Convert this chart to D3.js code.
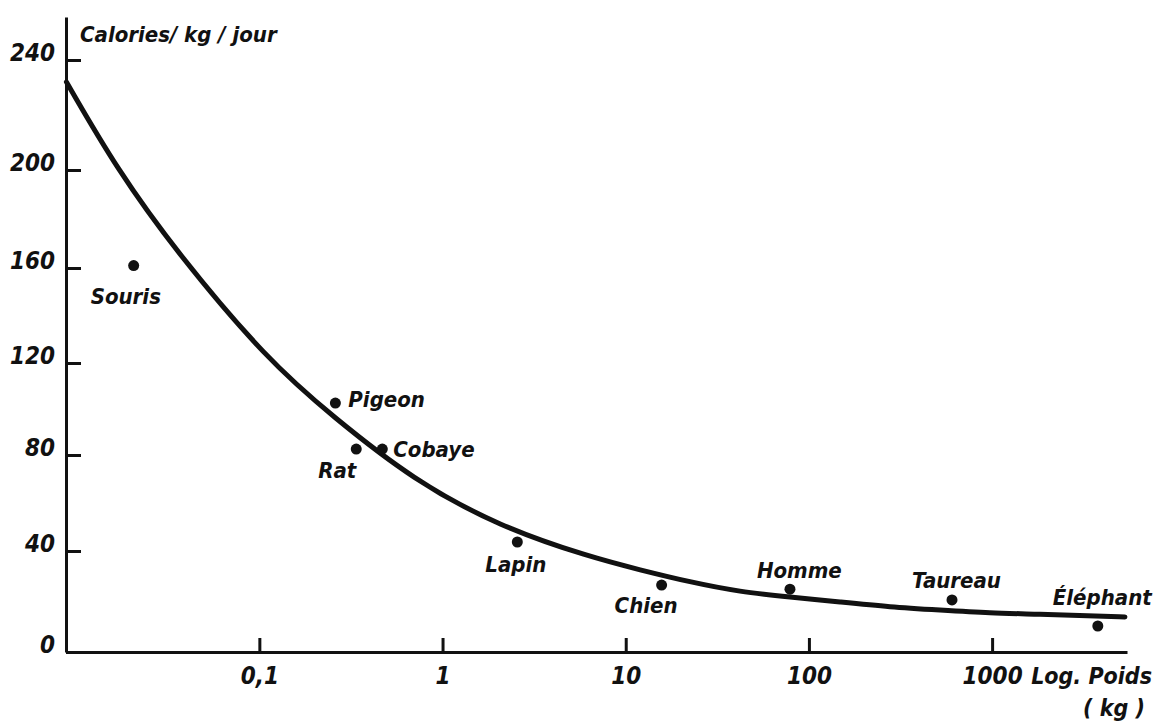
<!DOCTYPE html>
<html>
<head>
<meta charset="utf-8">
<script src="https://cdn.jsdelivr.net/npm/d3@7"></script>
<style>
  body { margin: 0; background: #fff; }
  text { font-family: "DejaVu Sans Condensed", "DejaVu Sans", sans-serif; font-weight: bold; font-style: italic; fill: #111; }
</style>
</head>
<body>
<div id="chart"></div>
<script>
// animals: body weight (kg) and calories / kg / day
const animals = ["Souris", "Pigeon", "Rat", "Cobaye", "Lapin", "Chien", "Homme", "Taureau", "Éléphant"]
const weights = [0.0206, 0.26, 0.338, 0.469, 2.56, 15.7, 78.8, 604, 3776]
const calories = [161, 102.6, 82.6, 82.6, 43.75, 26.5, 24.9, 20.6, 10.3]

// hand drawn fitted curve
const curveWeights = [0.00885, 0.0168, 0.0357, 0.1106, 0.2535, 0.692, 2.07, 6.40, 12.0, 22.4, 42.1, 78.8, 148, 277, 519, 972, 1824, 3415, 5310]
const curveCalories = [232, 200, 166.1, 121.3, 96.5, 69.6, 50, 37.6, 32.5, 27.7, 23.8, 21.8, 19.8, 17.8, 16.6, 15.4, 15.0, 14.3, 13.9]

const yTicks = [0, 40, 80, 120, 160, 200, 240]
const xTicks = [0.1, 1, 10, 100, 1000]
const xTickLabels = ["0,1", "1", "10", "100", "1000"]

const width = 1157
const height = 727

const svg = d3.select("#chart").append("svg")
    .attr("width", width)
    .attr("height", height)

// Scales (the drawn scale is a bit uneven, so y is piecewise)
const xScale = d3.scaleLog()
    .domain([0.0088, 5450])
    .range([66, 1127])

const yScale = d3.scaleLinear()
    .domain([0, 40, 80, 120, 160, 200, 240, 258])
    .range([652, 551, 455, 363, 268, 170, 60, 17])

// Axes
const xAxis = svg.append("g")
    .attr("transform", `translate(0, ${yScale(0)})`)
    .call(d3.axisBottom(xScale)
        .tickValues(xTicks)
        .tickFormat((d, i) => xTickLabels[i])
        .tickSize(-14)
        .tickSizeOuter(0))
xAxis.select(".domain").attr("stroke", "#111").attr("stroke-width", 3)
xAxis.selectAll(".tick line").attr("stroke", "#111").attr("stroke-width", 3)
xAxis.selectAll(".tick text")
    .attr("y", 32)
    .attr("dy", 0)
    .attr("font-size", 24)
    .attr("font-family", null)

const yAxis = svg.append("g")
    .attr("transform", `translate(${xScale.range()[0]}, 0)`)
    .call(d3.axisLeft(yScale)
        .tickValues(yTicks)
        .tickSize(-15)
        .tickSizeOuter(0)
        .tickPadding(10))
yAxis.select(".domain").attr("stroke", "#111").attr("stroke-width", 3)
yAxis.selectAll(".tick line").attr("stroke", "#111").attr("stroke-width", 3)
yAxis.selectAll(".tick text")
    .attr("x", -11)
    .attr("dy", 0)
    .attr("font-size", 24)
    .attr("font-family", null)

// Axis titles
svg.append("text")
    .attr("x", 80)
    .attr("y", 42)
    .attr("font-size", 22)
    .text("Calories/ kg / jour")

svg.append("text")
    .attr("x", 1152)
    .attr("y", 684)
    .attr("text-anchor", "end")
    .attr("font-size", 23)
    .text("Log. Poids")

svg.append("text")
    .attr("x", 1145)
    .attr("y", 716)
    .attr("text-anchor", "end")
    .attr("font-size", 23)
    .text("( kg )")

// Curve
const curveData = curveWeights.map((w, i) => ({ w, c: curveCalories[i] }))
const lineGenerator = d3.line()
    .x(d => xScale(d.w))
    .y(d => yScale(d.c))
    .curve(d3.curveBasis)

svg.append("path")
    .attr("d", lineGenerator(curveData))
    .attr("fill", "none")
    .attr("stroke", "#111")
    .attr("stroke-width", 5)
    .attr("stroke-linecap", "round")

// Points
const points = animals.map((name, i) => ({ name, w: weights[i], c: calories[i] }))

svg.selectAll(".dot")
    .data(points)
    .join("circle")
    .attr("class", "dot")
    .attr("cx", d => xScale(d.w))
    .attr("cy", d => yScale(d.c))
    .attr("r", 5.5)
    .attr("fill", "#111")

// label offsets relative to the dot
const labelOffsets = {
    "Souris": [-43, 38],
    "Pigeon": [13, 4],
    "Rat": [-38, 29],
    "Cobaye": [11, 8],
    "Lapin": [-32, 30],
    "Chien": [-47, 28],
    "Homme": [-33, -11],
    "Taureau": [-40, -12],
    "Éléphant": [-45, -21]
}

svg.selectAll(".label")
    .data(points)
    .join("text")
    .attr("class", "label")
    .attr("x", d => xScale(d.w) + labelOffsets[d.name][0])
    .attr("y", d => yScale(d.c) + labelOffsets[d.name][1])
    .attr("font-size", 22)
    .text(d => d.name)
</script>
</body>
</html>
